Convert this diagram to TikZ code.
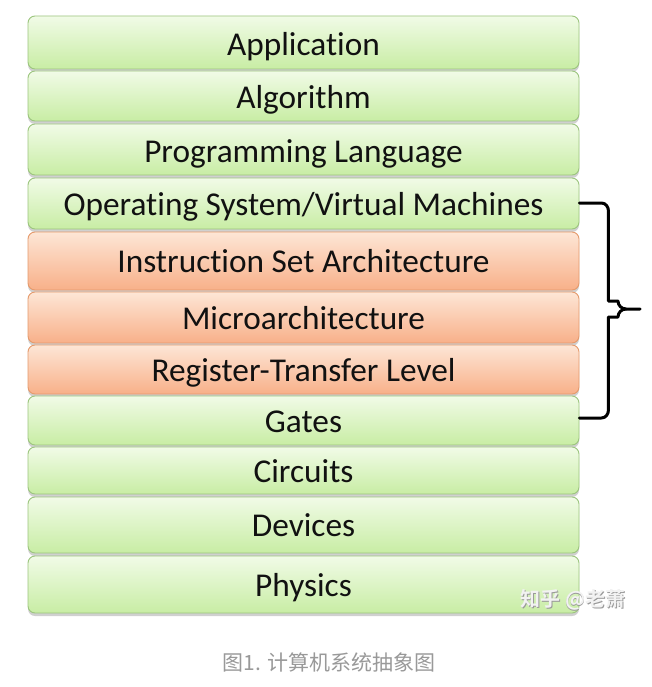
\documentclass[tikz,border=0pt]{standalone}
\usepackage{fontspec}
\setmainfont{Carlito}[Ligatures=NoCommon]
\newfontfamily\cjk{Noto Sans CJK SC}
\newfontfamily\cjkbold{Noto Sans CJK SC Bold}
\usetikzlibrary{shadows,calc}
\definecolor{gtop}{HTML}{F1FBE7}
\definecolor{gbot}{HTML}{C8EDA4}
\definecolor{gline}{HTML}{9CC57E}
\definecolor{otop}{HTML}{FDE6D6}
\definecolor{obot}{HTML}{F8B089}
\definecolor{oline}{HTML}{E59A6C}
\definecolor{txt}{HTML}{111111}
\definecolor{capgray}{HTML}{999999}
\tikzset{
  layer/.style={draw=gline, line width=0.9pt, rounded corners=7pt,
    top color=gtop, bottom color=gbot, minimum width=551pt, inner sep=0pt,
    drop shadow={shadow xshift=0pt, shadow yshift=-3pt, opacity=0.3, fill=black!60}},
  hwlayer/.style={layer, draw=oline, top color=otop, bottom color=obot},
  lbl/.style={anchor=base, text=txt, font=\fontsize{33.3}{38}\selectfont, inner sep=0pt},
  brace/.style={line width=3pt, draw=black, line cap=round, line join=round},
  wmark/.style={font=\cjkbold\fontsize{20}{22}\selectfont, inner sep=0pt}
}
\begin{document}
\begin{tikzpicture}[x=1pt,y=-1pt]
\useasboundingbox[fill=white] (0,0) rectangle (651,687);
% boxes
\node[layer, minimum height=53pt] (app) at (303.5,42.5) {};
\node[layer, minimum height=50pt] (alg) at (303.5,96) {};
\node[layer, minimum height=51pt] (pl) at (303.5,149.5) {};
\node[layer, minimum height=51pt] (os) at (303.5,203.5) {};
\node[hwlayer, minimum height=58pt] (isa) at (303.5,261) {};
\node[hwlayer, minimum height=51pt] (uarch) at (303.5,317.5) {};
\node[hwlayer, minimum height=49pt] (rtl) at (303.5,369.5) {};
\node[layer, minimum height=49pt] (gates) at (303.5,420.5) {};
\node[layer, minimum height=47pt] (circ) at (303.5,470.5) {};
\node[layer, minimum height=56pt] (dev) at (303.5,525) {};
\node[layer, minimum height=57pt] (phys) at (303.5,584.5) {};
% labels
\node[lbl] (tapp) at ($(app.center)+(0,13)$) {Application};
\node[lbl] (talg) at ($(alg.center)+(0,12.5)$) {Algorithm};
\node[lbl] (tpl) at ($(pl.center)+(0,12.5)$) {Programming Language};
\node[lbl] (tos) at ($(os.center)+(0,11.5)$) {Operating System/Virtual Machines};
\node[lbl] (tisa) at ($(isa.center)+(0,11.5)$) {Instruction Set Architecture};
\node[lbl] (tuarch) at ($(uarch.center)+(0,11.5)$) {Microarchitecture};
\node[lbl] (trtl) at ($(rtl.center)+(0,11.5)$) {Register-Transfer Level};
\node[lbl] (tgates) at ($(gates.center)+(0,11.5)$) {Gates};
\node[lbl] (tcirc) at ($(circ.center)+(0,11.5)$) {Circuits};
\node[lbl] (tdev) at ($(dev.center)+(0,11.5)$) {Devices};
\node[lbl] (tphys) at ($(phys.center)+(0,11.5)$) {Physics};
% brace
\coordinate (btop) at ($(os.east)+(0,-0.5)$);
\coordinate (bbot) at ($(gates.east)+(0,-2.5)$);
\coordinate (btip) at (640,309);
\draw[brace] (btop) -- ++(22,0) to[out=0,in=90] ++(7,8) |- ($(btip)+(-22,-8)$)
  to[out=-90,in=180] ($(btip)+(-14,0)$) -- (btip);
\draw[brace] (bbot) -- ++(22,0) to[out=0,in=-90] ++(7,-8) |- ($(btip)+(-22,8)$)
  to[out=90,in=180] ($(btip)+(-14,0)$);
% watermark
\node[wmark, text=black!40] (wms) at (573.8,600.8) {知乎 @老萧};
\node[wmark, text=white!95!black] (wm) at (573,600) {知乎 @老萧};
% caption
\node[text=capgray, font=\cjk\fontsize{21}{24}\selectfont, inner sep=0pt] (cap) at (329,662) {图1. 计算机系统抽象图};
\end{tikzpicture}
\end{document}
